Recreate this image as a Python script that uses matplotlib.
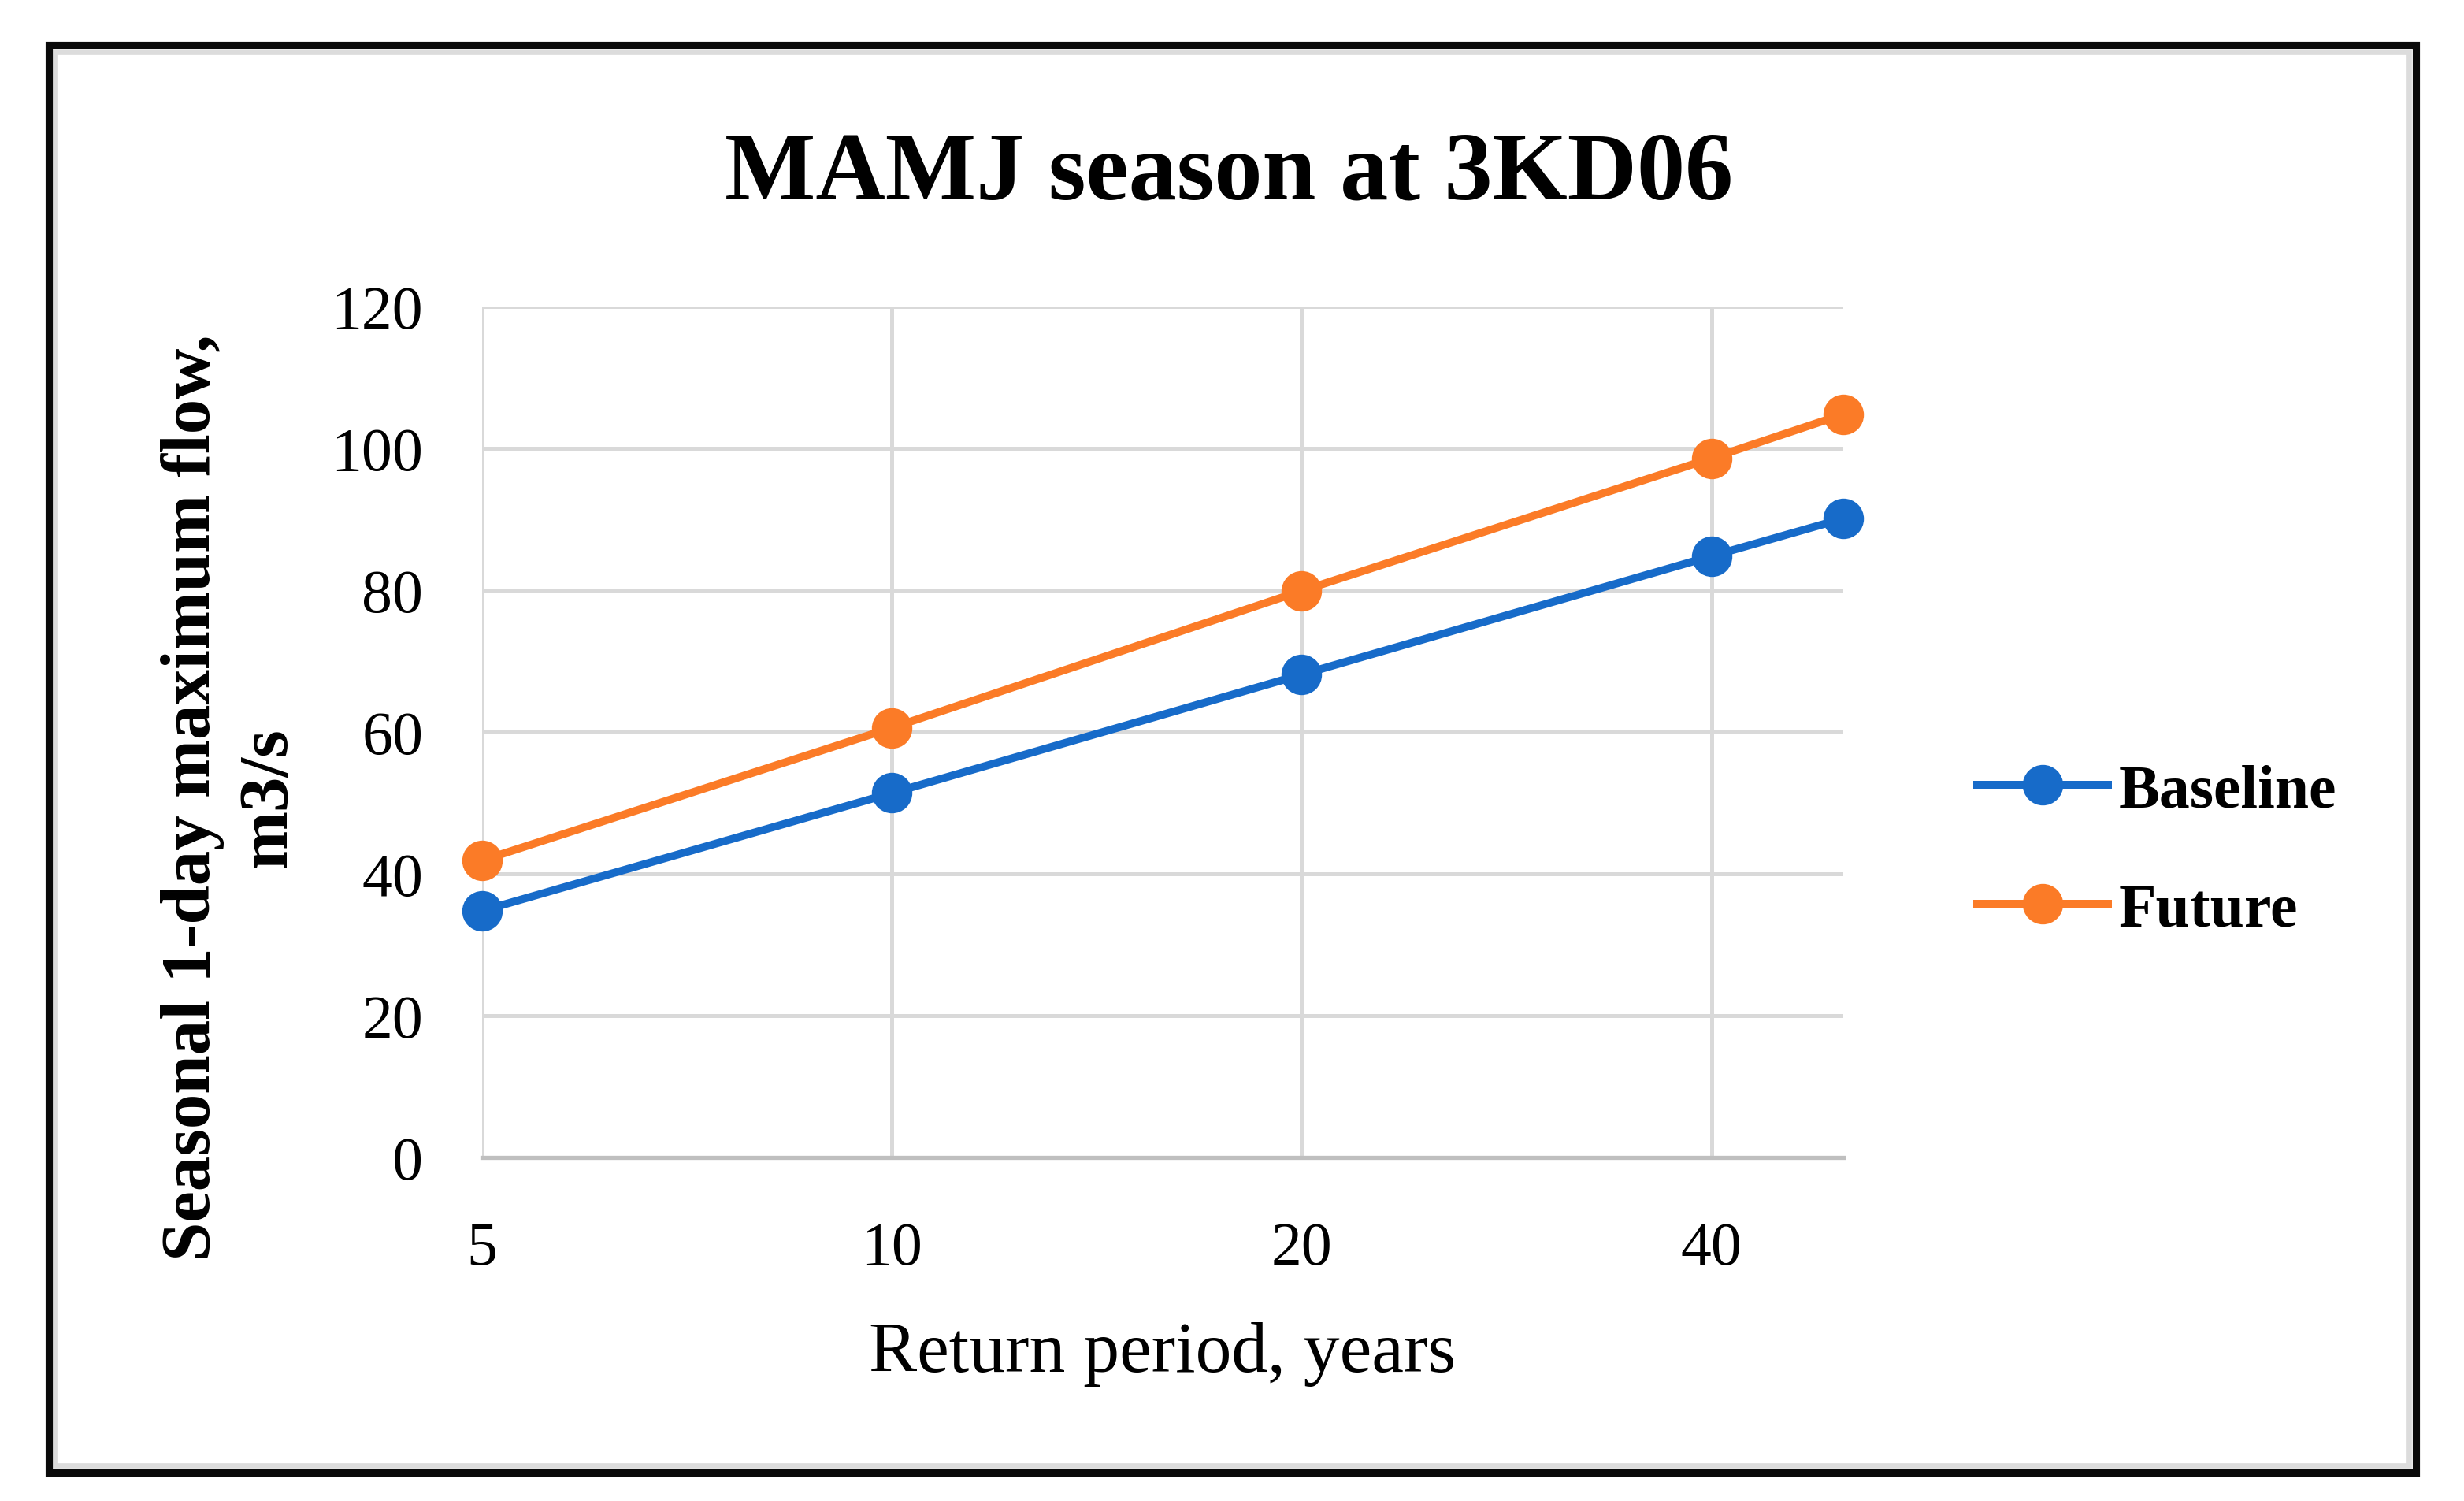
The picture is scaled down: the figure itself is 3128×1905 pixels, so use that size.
import matplotlib
matplotlib.use("Agg")
import matplotlib.pyplot as plt
from matplotlib.patches import Rectangle
from matplotlib.ticker import FixedLocator, FixedFormatter, NullLocator

# values
return_periods = [5, 10, 20, 40, 50]
baseline_flow = [34.8, 51.4, 68.1, 84.8, 90.1]
future_flow = [41.9, 60.6, 79.9, 98.6, 104.8]
x_tick_values = [5, 10, 20, 40]
x_tick_labels = ["5", "10", "20", "40"]
y_tick_values = [0, 20, 40, 60, 80, 100, 120]

BLUE = "#176BC9"
ORANGE = "#FB7B27"
GRID = "#d9d9d9"
SERIF = ["Liberation Serif", "DejaVu Serif"]

plt.rcParams["font.family"] = SERIF

fig = plt.figure(figsize=(15.64, 9.53), dpi=200)
ax = fig.add_axes([0.1957, 0.2287, 0.5524, 0.5667])

ax.plot(return_periods, baseline_flow, color=BLUE, lw=3.6, marker="o",
        markersize=17.5, label="Baseline", clip_on=False, zorder=3)
ax.plot(return_periods, future_flow, color=ORANGE, lw=3.6, marker="o",
        markersize=17.5, label="Future", clip_on=False, zorder=3)

ax.set_xscale("log")
ax.set_xlim(5, 50)
ax.set_ylim(0, 120)
ax.xaxis.set_major_locator(FixedLocator(x_tick_values))
ax.xaxis.set_major_formatter(FixedFormatter(x_tick_labels))
ax.xaxis.set_minor_locator(NullLocator())
ax.set_yticks(y_tick_values)

ax.grid(True, color=GRID, lw=1.8, zorder=0)
ax.set_axisbelow(True)
for side in ["top", "right", "left"]:
    ax.spines[side].set_visible(False)
ax.spines["bottom"].set_color("#bfbfbf")
ax.spines["bottom"].set_linewidth(1.9)

ax.tick_params(axis="both", length=0, labelsize=28)
ax.tick_params(axis="x", pad=29)
ax.tick_params(axis="y", pad=27)

fig.text(0.4987, 0.8673, "MAMJ season at 3KD06", ha="center", va="baseline",
         fontsize=44, fontweight="bold")
fig.text(0.4716, 0.0866, "Return period, years", ha="center", va="baseline",
         fontsize=33)
fig.text(0.0937, 0.4690, "Seasonal 1-day maximum flow,\nm3/s", rotation=90,
         ha="center", va="center", multialignment="center",
         fontsize=32, fontweight="bold", linespacing=1.25)

leg = ax.legend(loc="center left", bbox_to_anchor=(0.8024, 0.4329),
                bbox_transform=fig.transFigure, frameon=False, fontsize=28,
                handlelength=2.13, handletextpad=0.18, labelspacing=1.02,
                borderpad=0, borderaxespad=0)
for t in leg.get_texts():
    t.set_fontweight("bold")

# outer frame: black border with a light grey shadow inside
fig.patches.append(Rectangle((0.01998, 0.01863), 0.9804 - 0.01998, 0.9696 - 0.01863,
                             transform=fig.transFigure, fill=False,
                             edgecolor="#0a0a0a", lw=3.3, zorder=10))
fig.patches.append(Rectangle((0.0219, 0.0234), 0.9775 - 0.0219, 0.9651 - 0.0234,
                             transform=fig.transFigure, fill=False,
                             edgecolor="#dcdcdc", lw=2.4, zorder=9))

fig.savefig("out.png", dpi=200, facecolor="white")
